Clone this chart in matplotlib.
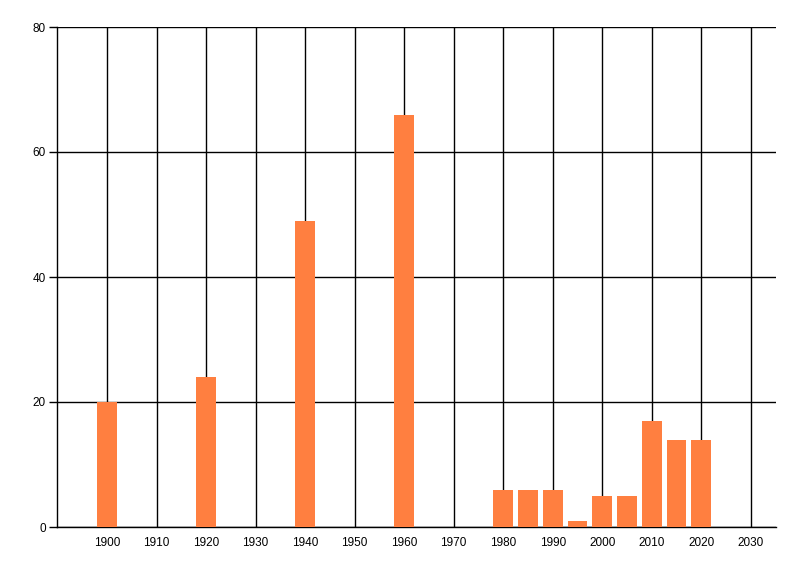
import matplotlib
matplotlib.use("Agg")
import matplotlib.pyplot as plt

years = [1900, 1920, 1940, 1960, 1980, 1985, 1990, 1995, 2000, 2005, 2010, 2015, 2020]
counts = [20, 24, 49, 66, 6, 6, 6, 1, 5, 5, 17, 14, 14]
xticks = list(range(1900, 2031, 10))
yticks = [0, 20, 40, 60, 80]

plt.rcParams['font.family'] = ['Liberation Sans', 'DejaVu Sans']

fig = plt.figure(figsize=(8, 5.76), dpi=100)
ax = fig.add_axes([57 / 800, 49 / 576, (776 - 57) / 800, (527 - 27) / 576])

ax.bar(years, counts, width=4, color='#FF7F40', zorder=3)

ax.set_xlim(1889.9, 2035.1)
ax.set_ylim(0, 80)
ax.set_xticks(xticks)
ax.set_yticks(yticks)
ax.grid(True, color='black', linewidth=1)
ax.set_axisbelow(True)

for s in ['top', 'right']:
    ax.spines[s].set_visible(False)
for s in ['left', 'bottom']:
    ax.spines[s].set_linewidth(1)

ax.tick_params(axis='x', length=0, pad=7, labelsize=8.5)
ax.tick_params(axis='y', length=6, width=1, pad=2, labelsize=8.5)

plt.savefig('out.png')
